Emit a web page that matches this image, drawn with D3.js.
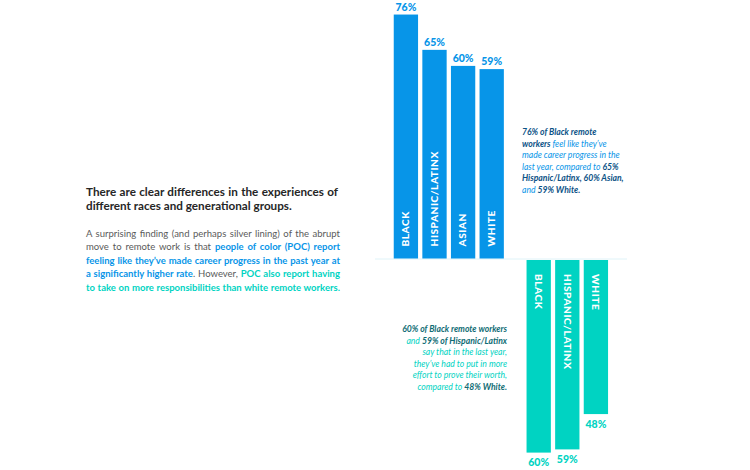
<!DOCTYPE html>
<html>
<head>
<meta charset="utf-8">
<script src="https://d3js.org/d3.v7.min.js"></script>
<style>
  body { margin: 0; background: #fff; font-family: Lato, sans-serif; }
  #chart { position: relative; width: 750px; height: 470px; overflow: hidden; }
  svg { position: absolute; left: 0; top: 0; }
  .block { position: absolute; }
</style>
</head>
<body>
<div id="chart"></div>
<script>
var progressGroups = ["BLACK", "HISPANIC/LATINX", "ASIAN", "WHITE"];
var progressValues = [76, 65, 60, 59];
var effortGroups = ["BLACK", "HISPANIC/LATINX", "WHITE"];
var effortValues = [60, 59, 48];

var blue = '#0795e8', teal = '#00d3c2', navy = '#0b5286', darkTeal = '#0f6c74';
var grey = '#5a5a5a', ink = '#262626';

// each line is a list of [text, colour, bold]
var headingLines = [
  [["There are clear differences in the experiences of", ink, 1]],
  [["different races and generational groups.", ink, 1]]
];
var bodyLines = [
  [["A surprising finding (and perhaps silver lining) of the abrupt", grey, 0]],
  [["move to remote work is that ", grey, 0], ["people of color (POC) report", blue, 1]],
  [["feeling like they\u2019ve made career progress in the past year at", blue, 1]],
  [["a significantly higher rate", blue, 1], [". However, ", grey, 0], ["POC also report having", teal, 1]],
  [["to take on more responsibilities than white remote workers.", teal, 1]]
];
var progressNote = [
  [["76% of Black remote", navy, 1]],
  [["workers ", navy, 1], ["feel like they\u2019ve", blue, 0]],
  [["made career progress in the", blue, 0]],
  [["last year, compared to ", blue, 0], ["65%", navy, 1]],
  [["Hispanic/Latinx, 60% Asian,", navy, 1]],
  [["and ", blue, 0], ["59% White.", navy, 1]]
];
var effortNote = [
  [["60% of Black remote workers", darkTeal, 1]],
  [["and ", teal, 0], ["59% of Hispanic/Latinx", darkTeal, 1]],
  [["say that in the last year,", teal, 0]],
  [["they\u2019ve had to put in more", teal, 0]],
  [["effort to prove their worth,", teal, 0]],
  [["compared to ", teal, 0], ["48% White.", darkTeal, 1]]
];

var chart = d3.select('#chart');
var svg = chart.append('svg').attr('width', 750).attr('height', 470);

var baseUp = 258.5, baseDown = 260;
var pxPerPoint = 3.21;

// same px per percent both ways, one growing up and one growing down
var yUp = d3.scaleLinear().domain([0, 76]).range([baseUp, baseUp - 76 * pxPerPoint]);
var yDown = d3.scaleLinear().domain([0, 60]).range([baseDown, baseDown + 60 * pxPerPoint]);
var xUp = d3.scaleBand().domain(progressGroups).range([391.6, 506]).paddingInner(0.15).paddingOuter(0.075);
var xDown = d3.scaleBand().domain(effortGroups).range([524.4, 610.2]).paddingInner(0.15).paddingOuter(0.075);

svg.append('line')
    .attr('x1', 375).attr('x2', 627)
    .attr('y1', 259).attr('y2', 259)
    .style('stroke', '#dff3f8')
    .style('stroke-width', 1);

var up = svg.selectAll('g.up')
  .data(progressGroups)
  .enter()
  .append('g')
    .attr('class', 'up');

up.append('rect')
    .attr('x', d => xUp(d))
    .attr('width', xUp.bandwidth())
    .attr('y', (d, i) => yUp(progressValues[i]))
    .attr('height', (d, i) => baseUp - yUp(progressValues[i]))
    .style('fill', blue);

up.append('text')
    .attr('x', d => xUp(d) + xUp.bandwidth() / 2)
    .attr('y', (d, i) => yUp(progressValues[i]) - 4)
    .attr('text-anchor', 'middle')
    .style('font-size', '10.5px')
    .style('font-weight', 900)
    .style('fill', blue)
    .text((d, i) => progressValues[i] + '%');

up.append('text')
    .attr('transform', d => `translate(${xUp(d) + xUp.bandwidth() / 2 + 3.2},246.5) rotate(-90)`)
    .style('font-size', '10.2px')
    .style('font-weight', 900)
    .style('letter-spacing', '0.5px')
    .style('fill', '#fff')
    .text(d => d);

var down = svg.selectAll('g.down')
  .data(effortGroups)
  .enter()
  .append('g')
    .attr('class', 'down');

down.append('rect')
    .attr('x', d => xDown(d))
    .attr('width', xDown.bandwidth())
    .attr('y', baseDown)
    .attr('height', (d, i) => yDown(effortValues[i]) - baseDown)
    .style('fill', teal);

down.append('text')
    .attr('x', d => xDown(d) + xDown.bandwidth() / 2)
    .attr('y', (d, i) => yDown(effortValues[i]) + 13.5)
    .attr('text-anchor', 'middle')
    .style('font-size', '10.5px')
    .style('font-weight', 900)
    .style('fill', teal)
    .text((d, i) => effortValues[i] + '%');

down.append('text')
    .attr('transform', d => `translate(${xDown(d) + xDown.bandwidth() / 2 - 3.5},274) rotate(90)`)
    .style('font-size', '10.2px')
    .style('font-weight', 900)
    .style('letter-spacing', '0.5px')
    .style('fill', '#fff')
    .text(d => d);

function textBlock(lines, opts) {
  var block = chart.append('div')
      .attr('class', 'block')
      .style('left', opts.left + 'px')
      .style('top', opts.top + 'px')
      .style('width', opts.width + 'px')
      .style('font-size', opts.size + 'px')
      .style('line-height', opts.lineHeight + 'px')
      .style('font-style', opts.italic ? 'italic' : 'normal');
  var rows = block.selectAll('div')
    .data(lines)
    .enter()
    .append('div')
      // only the lines that fill the column get stretched to both edges
      .style('text-align-last', (d, i) => opts.justify && opts.justify[i] ? 'justify' : opts.align);
  rows.selectAll('span')
    .data(d => d)
    .enter()
    .append('span')
      .style('color', d => d[1])
      .style('font-weight', d => d[2] ? 700 : 400)
      .text(d => d[0]);
  return block;
}

textBlock(headingLines, {left: 86, top: 183.5, width: 252, size: 11.7, lineHeight: 14.5, align: 'left', justify: [1, 0]});
textBlock(bodyLines, {left: 86, top: 227, width: 254, size: 9.5, lineHeight: 13.4, align: 'left', justify: [1, 1, 1, 1, 1]});
textBlock(progressNote, {left: 522, top: 127, width: 120, size: 8.6, lineHeight: 11.6, italic: true, align: 'left'});
textBlock(effortNote, {left: 387, top: 324, width: 120, size: 8.6, lineHeight: 11.6, italic: true, align: 'right'});
</script>
</body>
</html>
